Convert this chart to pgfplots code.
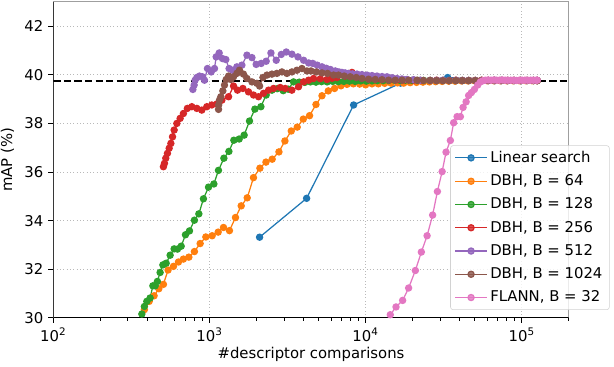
\documentclass[border=0pt]{standalone}
\usepackage{fontspec}
\setmainfont{DejaVu Sans}
\usepackage{pgfplots}
\pgfplotsset{compat=1.18}
\definecolor{tabblue}{HTML}{1F77B4}
\definecolor{taborange}{HTML}{FF7F0E}
\definecolor{tabgreen}{HTML}{2CA02C}
\definecolor{tabred}{HTML}{D62728}
\definecolor{tabpurple}{HTML}{9467BD}
\definecolor{tabbrown}{HTML}{8C564B}
\definecolor{tabpink}{HTML}{E377C2}
\newcommand{\fs}{\fontsize{10.7}{13}\selectfont}
\pgfplotsset{ser/.style={color=#1, solid, line width=0.9pt, mark=*, mark size=2.2pt, mark options={solid, fill=#1, draw=#1}}}
\begin{document}
\fs
\begin{tikzpicture}
\begin{axis}[
 width=371.1pt, height=227.5pt, scale only axis,
 xmode=log, xmin=100, xmax=200000, ymin=30, ymax=43,
 xtick={100,1000,10000,100000},
 xticklabels={10\textsuperscript{2},10\textsuperscript{3},10\textsuperscript{4},10\textsuperscript{5}},
 minor xtick={200,300,400,500,600,700,800,900,2000,3000,4000,5000,6000,7000,8000,9000,20000,30000,40000,50000,60000,70000,80000,90000,200000},
 ytick={30,32,34,36,38,40,42},
 /pgf/number format/assume math mode=true,
 tick align=outside, tick pos=left,
 major tick length=3.5pt, minor tick length=2pt,
 tick style={black, line width=0.6pt},
 grid=major, major grid style={dotted, color=gray!55, line width=0.6pt},
 axis line style={draw=gray!75, line width=0.8pt},
 xlabel={\#descriptor comparisons}, ylabel={mAP (\%)},
 xlabel style={yshift=3pt},
 label style={font=\fs}, tick label style={font=\fs},
 legend cell align=left,
 legend image code/.code={\draw[mark repeat=2,mark phase=2] plot coordinates {(0cm,0cm) (0.4cm,0cm) (0.8cm,0cm)};},
 legend style={at={(0.770,0.025)}, anchor=south west, draw=gray!35, rounded corners=2pt, fill=white, fill opacity=0.8, text opacity=1, draw opacity=1, inner xsep=3pt, inner ysep=2pt, row sep=3.2pt, font=\fs},
]
\addplot[black, line width=1.5pt, dash pattern=on 5.3pt off 2.3pt, forget plot] coordinates {(100,39.73) (200000,39.73)};

\addplot[ser=tabblue] coordinates {(2094,33.32) (4190,34.92) (8380,38.76) (16760,39.66) (33520,39.89) (67040,39.77) (125600,39.76)};
\addlegendentry{Linear search}

\addplot[ser=taborange] coordinates {(324,29.5) (383,30.34) (411,30.68) (442,30.91) (474,31.20) (507,31.38) (543,31.97) (588,32.12) (633,32.30) (681,32.42) (738,32.50) (801,32.73) (872,33.06) (948,33.33) (1040,33.38) (1137,33.53) (1230,33.72) (1343,33.59) (1468,34.13) (1597,34.61) (1745,34.94) (1914,35.77) (2104,36.16) (2300,36.41) (2522,36.53) (2786,36.83) (3043,37.28) (3342,37.69) (3648,37.85) (3990,38.18) (4376,38.32) (4810,38.78) (5256,39.14) (5768,39.34) (6327,39.44) (6955,39.55) (7600,39.61) (8340,39.63) (9160,39.62) (10000,39.59) (10990,39.63) (12060,39.63) (13250,39.65) (14550,39.66) (16000,39.67) (17550,39.66) (19300,39.68) (21200,39.69) (23300,39.70) (25600,39.71) (28100,39.72) (30900,39.73) (34000,39.74) (37400,39.74) (41100,39.75) (45200,39.75) (49700,39.76) (54600,39.76) (60000,39.76) (66000,39.76) (72600,39.76) (79800,39.76) (87700,39.76) (96400,39.76) (106000,39.76) (116500,39.76) (125600,39.76)};
\addlegendentry{DBH, B = 64}

\addplot[ser=tabgreen] coordinates {(340,29.5) (369,30.16) (383,30.47) (397,30.68) (417,30.82) (434,31.32) (449,31.32) (464,31.50) (483,31.87) (503,32.18) (528,32.25) (560,32.58) (594,32.84) (624,32.83) (659,32.95) (702,33.42) (745,33.58) (801,34.02) (855,34.28) (915,34.90) (986,35.38) (1067,35.51) (1142,36.07) (1237,36.57) (1332,36.85) (1433,37.31) (1550,37.36) (1668,37.52) (1805,38.10) (1954,38.59) (2135,38.69) (2308,39.17) (2512,39.37) (2717,39.43) (2967,39.35) (3193,39.41) (3454,39.71) (3758,39.70) (4080,39.69) (4430,39.71) (4810,39.70) (5220,39.72) (5670,39.71) (6160,39.73) (6690,39.72) (7260,39.73) (7890,39.74) (8570,39.73) (9300,39.75) (10100,39.74) (11000,39.75) (11900,39.76) (12950,39.76) (14050,39.77) (15300,39.78) (16600,39.77) (18000,39.78) (19800,39.77) (21600,39.77) (23500,39.77) (25900,39.77) (28500,39.77) (31300,39.77) (34400,39.77) (37900,39.77) (41700,39.77) (45800,39.77) (50400,39.77) (55400,39.77) (61000,39.77) (67100,39.77) (73800,39.77) (81200,39.77) (89300,39.77) (98200,39.77) (108000,39.77) (119000,39.77) (125600,39.77)};
\addlegendentry{DBH, B = 128}

\addplot[ser=tabred] coordinates {(507,36.22) (515,36.36) (525,36.57) (538,36.77) (552,36.98) (566,37.18) (580,37.45) (594,37.73) (618,38.00) (649,38.21) (681,38.41) (722,38.62) (771,38.69) (830,38.62) (893,38.55) (962,38.69) (1035,38.76) (1115,38.80) (1201,38.96) (1325,39.10) (1426,39.54) (1512,39.37) (1636,39.44) (1778,39.30) (1914,39.17) (2062,39.10) (2219,39.24) (2390,39.37) (2573,39.44) (2838,39.48) (3054,39.44) (3370,39.37) (3720,39.51) (4008,39.71) (4315,39.78) (4640,39.85) (5130,39.84) (5660,39.81) (6100,39.86) (6560,39.89) (7410,39.95) (8180,40.10) (9020,39.98) (9950,39.92) (10990,39.88) (12420,39.84) (14390,39.81) (15900,39.80) (17530,39.79) (20300,39.78) (22400,39.77) (25900,39.77) (28500,39.78) (31300,39.77) (34400,39.77) (37900,39.78) (41700,39.77) (45800,39.77) (50400,39.77) (55400,39.78) (61000,39.77) (67100,39.77) (73800,39.77) (81200,39.77) (89300,39.77) (98200,39.77) (108000,39.77) (119000,39.77) (125600,39.77)};
\addlegendentry{DBH, B = 256}

\addplot[ser=tabpurple] coordinates {(783,39.40) (798,39.58) (809,39.78) (830,39.89) (863,39.95) (902,39.92) (929,39.78) (971,40.26) (1026,40.12) (1077,40.26) (1104,40.74) (1154,40.90) (1211,40.67) (1273,40.63) (1336,40.26) (1403,40.19) (1498,40.33) (1613,40.40) (1738,40.81) (1871,40.71) (1992,40.43) (2144,40.47) (2308,40.56) (2476,40.90) (2677,40.60) (2884,40.84) (3105,40.94) (3375,40.85) (3687,40.74) (4008,40.60) (4315,40.49) (4590,40.47) (4900,40.40) (5255,40.33) (5600,40.27) (5950,40.22) (6395,40.16) (6750,40.12) (7060,40.10) (7400,40.08) (7780,40.06) (8250,40.04) (8810,40.03) (9480,40.01) (10210,39.99) (11000,39.97) (11830,39.95) (12750,39.93) (13710,39.92) (14800,39.88) (15890,39.85) (17100,39.83) (18420,39.81) (20300,39.80) (22420,39.78) (25900,39.77) (28500,39.77) (31300,39.78) (34400,39.77) (37900,39.77) (41700,39.77) (45800,39.77) (50400,39.77) (55400,39.77) (61000,39.77) (67100,39.77) (73800,39.77) (81200,39.77) (89300,39.77) (98200,39.77) (108000,39.77) (119000,39.77) (125600,39.77)};
\addlegendentry{DBH, B = 512}

\addplot[ser=tabbrown] coordinates {(1143,38.58) (1145,38.76) (1159,38.96) (1183,39.10) (1218,39.34) (1248,39.58) (1280,39.81) (1325,39.95) (1371,39.81) (1426,39.92) (1498,40.06) (1556,40.19) (1651,40.03) (1738,39.85) (1871,39.71) (2014,39.65) (2094,39.54) (2200,39.89) (2334,39.99) (2512,40.03) (2704,40.06) (2911,40.12) (3133,40.06) (3375,40.12) (3633,40.19) (3911,40.26) (4210,40.16) (4467,40.16) (4830,40.12) (5255,40.08) (5705,40.06) (6235,39.99) (6710,39.99) (7300,39.95) (7980,39.92) (8715,39.89) (9480,39.85) (10450,39.82) (11530,39.81) (12740,39.80) (14030,39.78) (15490,39.78) (17110,39.78) (18870,39.78) (21340,39.78) (23500,39.77) (25900,39.77) (28500,39.76) (31300,39.76) (34400,39.76) (37900,39.76) (41700,39.76) (45800,39.76) (50400,39.76) (55400,39.76) (61000,39.76) (67100,39.76) (73800,39.76) (81200,39.76) (89300,39.76) (98200,39.76) (108000,39.76) (119000,39.76) (125600,39.76)};
\addlegendentry{DBH, B = 1024}

\addplot[ser=tabpink] coordinates {(12220,29.5) (14390,30.13) (15660,30.45) (17270,30.72) (18860,31.23) (20830,31.95) (22760,32.71) (24770,33.38) (26870,34.23) (28830,35.20) (30920,36.02) (32750,36.82) (34910,37.30) (36640,38.03) (38550,38.28) (40460,38.28) (42100,38.66) (44030,38.89) (45700,39.15) (47600,39.27) (49750,39.40) (52240,39.58) (54330,39.71) (56400,39.76) (58480,39.78) (61000,39.79) (63600,39.78) (66300,39.79) (69100,39.78) (72000,39.78) (75100,39.79) (78300,39.78) (81600,39.78) (85100,39.78) (88700,39.78) (92500,39.77) (96400,39.78) (100500,39.78) (104800,39.78) (109300,39.78) (113900,39.78) (118800,39.78) (123800,39.78) (125600,39.78)};
\addlegendentry{FLANN, B = 32}

\draw[black, line width=0.8pt] (rel axis cs:0,1) -- (rel axis cs:0,0) -- (rel axis cs:1,0);
\coordinate (BL) at (rel axis cs:0,0);
\coordinate (TR) at (rel axis cs:1,1);
\end{axis}
\pgfresetboundingbox
\path ([shift={(-38.4pt,-35.3pt)}]BL) rectangle ([shift={(32.6pt,1.4pt)}]TR);
\end{tikzpicture}
\end{document}
